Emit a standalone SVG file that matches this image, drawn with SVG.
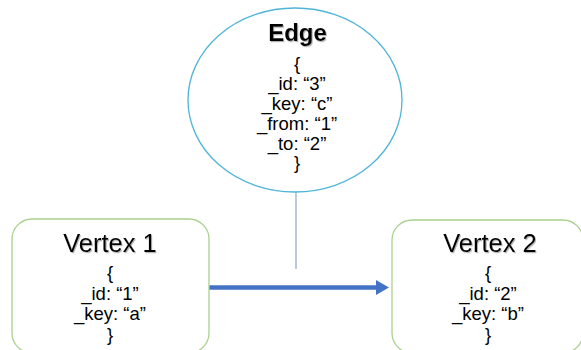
<svg xmlns="http://www.w3.org/2000/svg" width="581" height="350" viewBox="0 0 581 350">
<style>
  .box { fill: #ffffff; stroke: #A9D18E; stroke-width: 1.3; }
  .ell { fill: #ffffff; stroke: #4FB4D8; stroke-width: 1.3; }
  .title { font-family: "Liberation Sans", Arial, sans-serif; font-size: 25.5px; fill: #000; text-anchor: middle; filter: url(#shadow); }
  .etitle { font-family: "Liberation Sans", Arial, sans-serif; font-size: 24px; font-weight: bold; fill: #000; text-anchor: middle; filter: url(#shadow); }
  .body { font-family: "Liberation Sans", Arial, sans-serif; font-size: 18.5px; fill: #000; text-anchor: middle; }
  .stem { stroke: #8EA9C9; stroke-width: 1.2; fill: none; }
  .arrow { stroke: #4472C4; stroke-width: 4.5; fill: none; marker-end: url(#head); }
</style>
<defs>
  <filter id="shadow" x="-10%" y="-20%" width="130%" height="150%">
    <feDropShadow dx="1" dy="1.2" stdDeviation="0.7" flood-color="#777" flood-opacity="0.55"/>
  </filter>
  <marker id="head" markerUnits="userSpaceOnUse" markerWidth="14" markerHeight="16" refX="1" refY="8" orient="auto">
    <polygon points="0,0.5 13,8 0,15.5" fill="#4472C4"/>
  </marker>
</defs>
<rect width="581" height="350" fill="#ffffff"/>

<g id="connectors">
  <line class="stem" x1="296" y1="191" x2="296" y2="269"/>
  <line class="arrow" x1="209" y1="287.5" x2="377" y2="287.5"/>
</g>

<g id="edge">
  <ellipse class="ell" cx="295" cy="100" rx="107" ry="92"/>
  <text class="etitle" x="297.5" y="41">Edge</text>
  <text class="body" x="297" y="70">{</text>
  <text class="body" x="297" y="90">_id: “3”</text>
  <text class="body" x="297" y="110">_key: “c”</text>
  <text class="body" x="297" y="130">_from: “1”</text>
  <text class="body" x="297" y="150">_to: “2”</text>
  <text class="body" x="297" y="169">}</text>
</g>

<g id="vertex1">
  <rect class="box" x="12" y="219" width="197" height="134" rx="20" ry="20"/>
  <text class="title" x="110" y="252">Vertex 1</text>
  <text class="body" x="110" y="279">{</text>
  <text class="body" x="110" y="299.5">_id: “1”</text>
  <text class="body" x="110" y="320">_key: “a”</text>
  <text class="body" x="110" y="340.5">}</text>
</g>

<g id="vertex2">
  <rect class="box" x="392" y="220" width="191" height="133" rx="20" ry="20"/>
  <text class="title" x="490" y="252">Vertex 2</text>
  <text class="body" x="488" y="279">{</text>
  <text class="body" x="488" y="299.5">_id: “2”</text>
  <text class="body" x="488" y="320">_key: “b”</text>
  <text class="body" x="488" y="340.5">}</text>
</g>
</svg>
